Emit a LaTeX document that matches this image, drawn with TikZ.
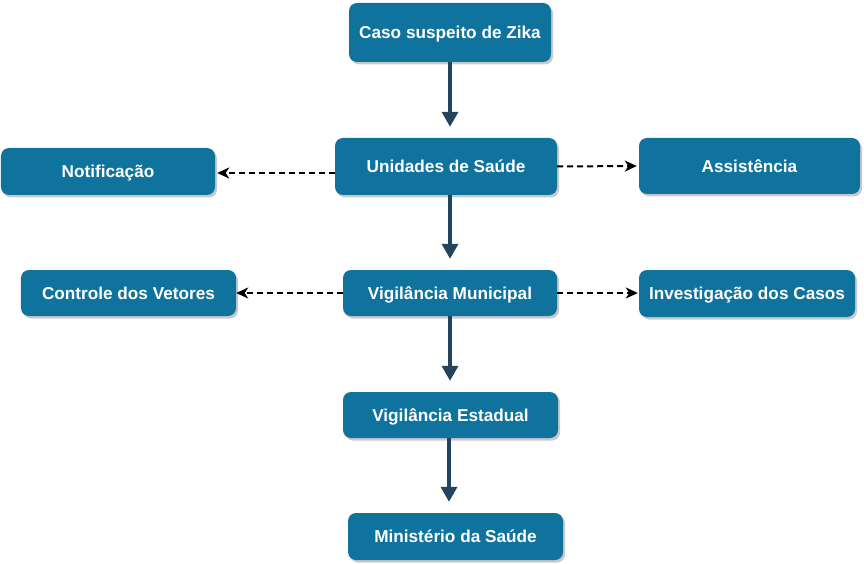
\documentclass[tikz,border=0pt]{standalone}
\usepackage{fontspec}
\setmainfont{Liberation Sans}
\usetikzlibrary{arrows.meta,shadows}
\definecolor{boxblue}{HTML}{10739E}
\definecolor{arrownavy}{HTML}{23445D}
\tikzset{
  box/.style={rectangle, rounded corners=8bp, fill=boxblue, text=white,
    font=\fontsize{17.2bp}{20bp}\selectfont\bfseries, inner sep=0pt,
    text height=12.4bp, text depth=0pt,
    drop shadow={shadow xshift=2bp, shadow yshift=-2.5bp, opacity=0.35, fill=black!60}},
  mainarrow/.style={draw=arrownavy, line width=3.5bp, -{Triangle[width=16bp,length=15bp]}, shorten >=11bp},
  sidearrow/.style={draw=black, line width=2bp, dash pattern=on 6bp off 4bp, -{Stealth[length=12bp,width=11bp,inset=3.5bp]}}
}
\begin{document}
\begin{tikzpicture}[x=1bp,y=-1bp]
\useasboundingbox[fill=white] (0,0) rectangle (864,564);
\node[box, minimum width=202bp, minimum height=59bp] (caso) at (450,32.5) {Caso suspeito de Zika};
\node[box, minimum width=222bp, minimum height=57bp] (uni) at (446,166.5) {Unidades de Saúde};
\node[box, minimum width=214bp, minimum height=47bp] (not) at (108,171.5) {Notificação};
\node[box, minimum width=221bp, minimum height=56bp] (ass) at (749.5,166) {Assistência};
\node[box, minimum width=215bp, minimum height=46bp] (con) at (128.5,293) {Controle dos Vetores};
\node[box, minimum width=214bp, minimum height=46bp] (vm) at (450,293) {Vigilância Municipal};
\node[box, minimum width=216bp, minimum height=47bp] (inv) at (747,293.5) {Investigação dos Casos};
\node[box, minimum width=215bp, minimum height=46bp] (ve) at (450.5,415) {Vigilância Estadual};
\node[box, minimum width=215bp, minimum height=47bp] (min) at (455.5,536.5) {Ministério da Saúde};
\coordinate (c1) at (450,0);
\draw[mainarrow] (c1 |- caso.south) -- (c1 |- uni.north);
\draw[mainarrow] (c1 |- uni.south) -- (c1 |- vm.north);
\draw[mainarrow] (c1 |- vm.south) -- (c1 |- ve.north);
\coordinate (c2) at (449,0);
\draw[mainarrow] (c2 |- ve.south) -- (c2 |- min.north);
\coordinate (y1) at (0,173);
\draw[sidearrow, shorten >=2bp] (uni.west |- y1) -- (not.east |- y1);
\draw[sidearrow, shorten >=2bp] (uni.east) -- (ass.west);
\draw[sidearrow] (vm.west) -- (con.east);
\draw[sidearrow, shorten >=1bp] (vm.east) -- (inv.west |- vm.east);
\end{tikzpicture}
\end{document}
